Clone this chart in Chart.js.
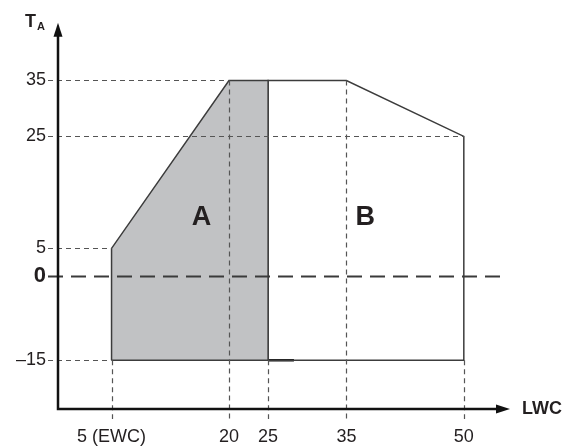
<!DOCTYPE html>
<html>
<head>
<meta charset="utf-8">
<script src="https://cdn.jsdelivr.net/npm/chart.js@4/dist/chart.umd.min.js"></script>
<style>
    html, body { margin: 0; padding: 0; background: #fff; }
    #wrap { width: 570px; height: 446px; }
</style>
</head>
<body>
<div id="wrap"><canvas id="envelope"></canvas></div>
<script>
// Dados do gráfico (LWC x TA)
const xTickValues = [5, 20, 25, 35, 50];
const xTickLabels = ['5 (EWC)', '20', '25', '35', '50'];
const yTickValues = [35, 25, 5, 0, -15];
const yTickLabels = ['35', '25', '5', '0', '\u201315'];

// Região A (sombreada)
const regionAX = [5, 5, 20, 25, 25, 5];
const regionAY = [-15, 5, 35, 35, -15, -15];

// Região B (contorno)
const regionBX = [25, 25, 35, 50, 50, 25];
const regionBY = [-15, 35, 35, 25, -15, -15];

// Pequeno traço grosso na base de B
const baseMarkX = [25, 28.3];
const baseMarkY = [-15, -15];

// Linhas-guia tracejadas
const xGuideTop = [-15, 35, -15, 35, -15];
const yGuideEnd = [20, 50, 5, 55.3, 5];

// Rótulos das regiões
const regionLabels = ['A', 'B'];
const regionLabelX = [16.5, 37.4];
const regionLabelY = [10.5, 10.5];

// Limites dos eixos
const xMin = -1.84, xMax = 55.9;
const yMin = -23.7, yMax = 45.3;

const ink = '#231f20';
const fontFamily = 'Arial, "Liberation Sans", sans-serif';

function toPoints(xs, ys) {
    return xs.map((x, i) => ({ x: x, y: ys[i] }));
}

// Plugin para eixos com setas, guias e textos
const schematicPlugin = {
    id: 'schematic',
    afterDatasetsDraw(chart) {
        const { ctx, chartArea, scales } = chart;
        const xs = scales.x, ys = scales.y;
        const left = chartArea.left, bottom = chartArea.bottom;

        ctx.save();

        // guias verticais
        ctx.strokeStyle = '#555';
        ctx.lineWidth = 1.2;
        ctx.setLineDash([5, 4]);
        xTickValues.forEach((v, i) => {
            const px = Math.round(xs.getPixelForValue(v)) + 0.5;
            ctx.beginPath();
            ctx.moveTo(px, ys.getPixelForValue(xGuideTop[i]));
            ctx.lineTo(px, bottom + 10);
            ctx.stroke();
        });

        // guias horizontais
        yTickValues.forEach((v, i) => {
            const py = Math.round(ys.getPixelForValue(v)) + 0.5;
            if (v === 0) {
                ctx.strokeStyle = '#3a3a3a';
                ctx.lineWidth = 2;
                ctx.setLineDash([15, 8]);
            } else {
                ctx.strokeStyle = '#555';
                ctx.lineWidth = 1.2;
                ctx.setLineDash([5, 4]);
            }
            ctx.beginPath();
            ctx.moveTo(left - 10, py);
            ctx.lineTo(xs.getPixelForValue(yGuideEnd[i]), py);
            ctx.stroke();
        });
        ctx.setLineDash([]);

        // eixos com setas
        const right = chartArea.right, top = chartArea.top;
        ctx.strokeStyle = '#111';
        ctx.fillStyle = '#111';
        ctx.lineWidth = 2.5;
        ctx.beginPath();
        ctx.moveTo(left, top + 10);
        ctx.lineTo(left, bottom);
        ctx.lineTo(right - 10, bottom);
        ctx.stroke();

        ctx.beginPath();
        ctx.moveTo(left, top);
        ctx.lineTo(left - 4.5, top + 14);
        ctx.lineTo(left + 4.5, top + 14);
        ctx.closePath();
        ctx.fill();

        ctx.beginPath();
        ctx.moveTo(right, bottom);
        ctx.lineTo(right - 14, bottom - 4.5);
        ctx.lineTo(right - 14, bottom + 4.5);
        ctx.closePath();
        ctx.fill();

        // títulos dos eixos
        ctx.fillStyle = ink;
        ctx.textBaseline = 'alphabetic';
        ctx.textAlign = 'left';
        ctx.font = 'bold 18px ' + fontFamily;
        ctx.fillText('T', 25, 27);
        ctx.font = 'bold 11px ' + fontFamily;
        ctx.fillText('A', 37, 30);
        ctx.font = 'bold 18px ' + fontFamily;
        ctx.textBaseline = 'middle';
        ctx.fillText('LWC', 522, bottom);

        // rótulos das regiões
        ctx.font = 'bold 27px ' + fontFamily;
        ctx.textAlign = 'center';
        regionLabels.forEach((t, i) => {
            ctx.fillText(t, xs.getPixelForValue(regionLabelX[i]), ys.getPixelForValue(regionLabelY[i]));
        });

        ctx.restore();
    }
};

function initializeChart() {
    const ctx = document.getElementById('envelope').getContext('2d');

    new Chart(ctx, {
        type: 'scatter',
        data: {
            datasets: [
                {
                    label: 'A',
                    data: toPoints(regionAX, regionAY),
                    showLine: true,
                    fill: 'shape',
                    backgroundColor: '#c1c2c4',
                    borderColor: '#3c3c3c',
                    borderWidth: 1.5,
                    pointRadius: 0,
                    tension: 0
                },
                {
                    label: 'B',
                    data: toPoints(regionBX, regionBY),
                    showLine: true,
                    fill: false,
                    borderColor: '#3c3c3c',
                    borderWidth: 1.5,
                    pointRadius: 0,
                    tension: 0
                },
                {
                    label: 'base',
                    data: toPoints(baseMarkX, baseMarkY),
                    showLine: true,
                    fill: false,
                    borderColor: '#111',
                    borderWidth: 2.5,
                    pointRadius: 0
                }
            ]
        },
        options: {
            responsive: true,
            maintainAspectRatio: false,
            animation: false,
            layout: {
                padding: { top: 20, right: 60, left: 0, bottom: 0 }
            },
            plugins: {
                legend: { display: false },
                tooltip: { enabled: false }
            },
            scales: {
                x: {
                    type: 'linear',
                    min: xMin,
                    max: xMax,
                    grid: { display: false, drawTicks: false },
                    border: { display: false },
                    afterBuildTicks: scale => {
                        scale.ticks = xTickValues.map(v => ({ value: v }));
                    },
                    afterFit: scale => { scale.height = 37; },
                    ticks: {
                        autoSkip: false,
                        maxRotation: 0,
                        padding: 17,
                        color: ink,
                        font: { family: fontFamily, size: 18 },
                        callback: (value, index) => xTickLabels[index]
                    }
                },
                y: {
                    type: 'linear',
                    min: yMin,
                    max: yMax,
                    grid: { display: false, drawTicks: false },
                    border: { display: false },
                    afterBuildTicks: scale => {
                        scale.ticks = yTickValues.map(v => ({ value: v }));
                    },
                    afterFit: scale => { scale.width = 58; },
                    ticks: {
                        autoSkip: false,
                        padding: 12,
                        color: ink,
                        font: ctx => ctx.tick && ctx.tick.value === 0
                            ? { family: fontFamily, size: 22, weight: 'bold' }
                            : { family: fontFamily, size: 18 },
                        callback: (value, index) => yTickLabels[index]
                    }
                }
            }
        },
        plugins: [schematicPlugin]
    });
}

document.addEventListener('DOMContentLoaded', initializeChart);
</script>
</body>
</html>
